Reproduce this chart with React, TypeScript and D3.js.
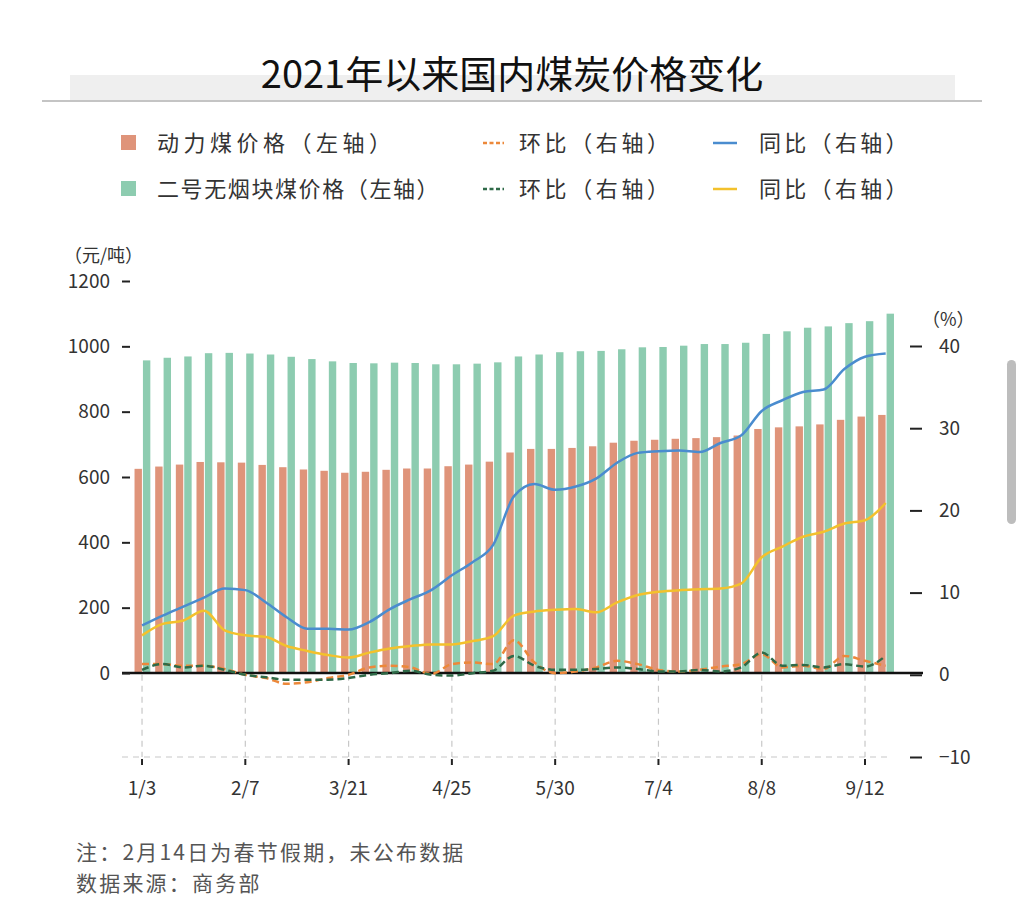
import { useEffect, useRef } from 'react';
import * as d3 from 'd3';

// weekly dates (2/14 missing – Spring Festival)
const dates = [
  '1/3', '1/10', '1/17', '1/24', '1/31', '2/7', '2/21', '2/28', '3/7', '3/14',
  '3/21', '3/28', '4/4', '4/11', '4/18', '4/25', '5/2', '5/9', '5/16', '5/23',
  '5/30', '6/6', '6/13', '6/20', '6/27', '7/4', '7/11', '7/18', '7/25', '8/1',
  '8/8', '8/15', '8/22', '8/29', '9/5', '9/12', '9/19',
];
const tickDates = ['1/3', '2/7', '3/21', '4/25', '5/30', '7/4', '8/8', '9/12'];
const leftTicks = [0, 200, 400, 600, 800, 1000, 1200];
const rightTicks = [-10, 0, 10, 20, 30, 40];

// 动力煤价格 (元/吨)
const powerPrice = [
  625, 632, 638, 646, 645, 644, 637, 630, 623, 619,
  613, 616, 622, 626, 626, 633, 638, 647, 675, 686,
  686, 689, 694, 705, 711, 714, 717, 719, 722, 727,
  747, 752, 755, 761, 775, 785, 790,
];
// 二号无烟块煤价格 (元/吨)
const anthracitePrice = [
  957, 965, 969, 979, 980, 978, 975, 968, 961, 954,
  949, 948, 950, 949, 945, 945, 947, 951, 969, 975,
  982, 985, 986, 991, 997, 998, 1002, 1007, 1007, 1011,
  1038, 1046, 1057, 1061, 1071, 1077, 1100,
];
// 动力煤 环比 / 同比 (%)
const powerMoM = [
  1.3, 1.3, 1.1, 1.1, 0.7, 0.0, -0.4, -1.1, -0.9, -0.4,
  0.0, 0.9, 1.1, 0.9, 0.1, 1.3, 1.5, 1.3, 4.2, 1.5,
  0.2, 0.4, 0.9, 1.7, 1.3, 0.6, 0.4, 0.6, 1.0, 1.3,
  2.5, 0.9, 1.1, 0.7, 2.3, 1.7, 1.1,
];
const powerYoY = [
  6.0, 7.2, 8.3, 9.4, 10.5, 10.3, 8.8, 7.0, 5.6, 5.6,
  5.5, 6.4, 8.0, 9.2, 10.3, 12.1, 13.7, 15.8, 21.7, 23.2,
  22.5, 22.9, 23.9, 25.8, 27.0, 27.2, 27.3, 27.1, 28.2, 29.1,
  32.1, 33.4, 34.4, 34.7, 37.2, 38.7, 39.1,
];
// 二号无烟块煤 环比 / 同比 (%)
const anthraciteMoM = [
  0.6, 1.3, 0.9, 1.1, 0.6, 0.0, -0.3, -0.6, -0.6, -0.6,
  -0.4, 0.0, 0.2, 0.5, 0.0, -0.1, 0.2, 0.5, 2.3, 1.1,
  0.6, 0.6, 0.7, 0.9, 0.7, 0.4, 0.4, 0.6, 0.4, 0.9,
  2.7, 1.1, 1.2, 0.9, 1.3, 1.0, 2.3,
];
const anthraciteYoY = [
  4.8, 6.2, 6.6, 7.8, 5.4, 4.8, 4.6, 3.5, 2.9, 2.4,
  2.1, 2.7, 3.2, 3.5, 3.7, 3.7, 4.1, 4.7, 7.2, 7.7,
  7.9, 8.0, 7.6, 8.8, 9.7, 10.1, 10.3, 10.4, 10.5, 11.1,
  14.3, 15.6, 16.8, 17.4, 18.4, 18.8, 20.9,
];

const FONT = '"Noto Sans CJK SC", "Noto Sans", sans-serif';
const ORANGE_BAR = '#df947a';
const GREEN_BAR = '#8dccb0';
const BLUE = '#4a8ccf';
const YELLOW = '#f3c12c';
const ORANGE_DASH = '#ec883a';
const GREEN_DASH = '#2f6a48';

export default function App() {
  const svgRef = useRef<SVGSVGElement>(null);

  useEffect(() => {
    if (!svgRef.current) return;
    const svg = d3.select(svgRef.current);
    svg.selectAll('*').remove();

    const x = d3.scaleBand().domain(dates).range([131.7, 896]).padding(0);
    const sub = d3.scaleBand().domain(['power', 'anthracite']).range([-7.5, 8.3]).paddingInner(0.12);
    const yL = d3.scaleLinear().domain([0, 1200]).range([673, 281]);
    const yR = d3.scaleLinear().domain([-10, 40]).range([757, 346]);
    const cx = (d: string) => (x(d) || 0) + x.bandwidth() / 2;

    svg.append('rect').attr('width', 1024).attr('height', 904).attr('fill', '#ffffff');

    // Title
    svg.append('rect')
      .attr('x', 70).attr('y', 75).attr('width', 885).attr('height', 25)
      .attr('fill', '#efefef');
    svg.append('line')
      .attr('x1', 42).attr('x2', 982).attr('y1', 101).attr('y2', 101)
      .attr('stroke', '#c4c4c4').attr('stroke-width', 2);
    svg.append('text')
      .attr('x', 512).attr('y', 88)
      .attr('text-anchor', 'middle')
      .style('font-size', '38px').style('font-weight', 400).style('fill', '#111')
      .text('2021年以来国内煤炭价格变化');

    // Legend
    const legendRows = [
      { y: 143, bar: ORANGE_BAR, barLabel: '动力煤价格（左轴）', spacing: '4.5px', dash: ORANGE_DASH, line: BLUE },
      { y: 189, bar: GREEN_BAR, barLabel: '二号无烟块煤价格（左轴）', spacing: '1.6px', dash: GREEN_DASH, line: YELLOW },
    ];
    legendRows.forEach(r => {
      const g = svg.append('g');
      g.append('rect').attr('x', 121).attr('y', r.y - 8).attr('width', 15).attr('height', 15).attr('fill', r.bar);
      g.append('text').attr('x', 157).attr('y', r.y).attr('dy', '0.36em')
        .style('font-size', '22px').style('letter-spacing', r.spacing).style('fill', '#333')
        .text(r.barLabel);
      g.append('line').attr('x1', 483).attr('x2', 504).attr('y1', r.y).attr('y2', r.y)
        .attr('stroke', r.dash).attr('stroke-width', 2.5).attr('stroke-dasharray', '4,2.5');
      g.append('text').attr('x', 519).attr('y', r.y).attr('dy', '0.36em')
        .style('font-size', '22px').style('letter-spacing', '3.6px').style('fill', '#333')
        .text('环比（右轴）');
      g.append('line').attr('x1', 713).attr('x2', 737).attr('y1', r.y).attr('y2', r.y)
        .attr('stroke', r.line).attr('stroke-width', 2.5);
      g.append('text').attr('x', 759).attr('y', r.y).attr('dy', '0.36em')
        .style('font-size', '22px').style('letter-spacing', '3.3px').style('fill', '#333')
        .text('同比（右轴）');
    });

    // Axis unit labels
    svg.append('text').attr('x', 64).attr('y', 262)
      .style('font-size', '18px').style('fill', '#333').text('（元/吨）');
    svg.append('text').attr('x', 922).attr('y', 326)
      .style('font-size', '18px').style('fill', '#333').text('（%）');

    // Vertical dashed grid below zero + bottom dashed line
    svg.append('g')
      .selectAll('line')
      .data(tickDates)
      .join('line')
      .attr('x1', d => cx(d)).attr('x2', d => cx(d))
      .attr('y1', yR(0)).attr('y2', yR(-10))
      .attr('stroke', '#c8c8c8').attr('stroke-width', 1.2).attr('stroke-dasharray', '6,5');
    svg.append('line')
      .attr('x1', 122).attr('x2', 892).attr('y1', yR(-10)).attr('y2', yR(-10))
      .attr('stroke', '#c8c8c8').attr('stroke-width', 1.2).attr('stroke-dasharray', '6,5');

    // Bars
    const bars = svg.append('g');
    bars.selectAll('rect.power')
      .data(dates)
      .join('rect')
      .attr('class', 'power')
      .attr('x', (d) => cx(d) + (sub('power') || 0))
      .attr('y', (_, i) => yL(powerPrice[i]))
      .attr('width', sub.bandwidth())
      .attr('height', (_, i) => yL(0) - yL(powerPrice[i]))
      .attr('fill', ORANGE_BAR);
    bars.selectAll('rect.anthracite')
      .data(dates)
      .join('rect')
      .attr('class', 'anthracite')
      .attr('x', (d) => cx(d) + (sub('anthracite') || 0))
      .attr('y', (_, i) => yL(anthracitePrice[i]))
      .attr('width', sub.bandwidth())
      .attr('height', (_, i) => yL(0) - yL(anthracitePrice[i]))
      .attr('fill', GREEN_BAR);

    // Zero line
    svg.append('line')
      .attr('x1', 122).attr('x2', 923).attr('y1', yL(0)).attr('y2', yL(0))
      .attr('stroke', '#111').attr('stroke-width', 2.5);

    // Lines (right axis)
    const line = d3.line<number>()
      .x((_, i) => cx(dates[i]))
      .y(v => yR(v))
      .curve(d3.curveMonotoneX);

    const series = [
      { data: powerMoM, color: ORANGE_DASH, dash: '7,4' },
      { data: anthraciteMoM, color: GREEN_DASH, dash: '7,4' },
      { data: anthraciteYoY, color: YELLOW, dash: null },
      { data: powerYoY, color: BLUE, dash: null },
    ];
    series.forEach(s => {
      svg.append('path')
        .datum(s.data)
        .attr('fill', 'none')
        .attr('stroke', s.color)
        .attr('stroke-width', 2.5)
        .attr('stroke-dasharray', s.dash)
        .attr('d', line);
    });

    // Left axis
    const left = svg.append('g')
      .attr('transform', 'translate(130,0)')
      .call(d3.axisLeft(yL).tickValues(leftTicks).tickFormat(d3.format('d')).tickSize(8).tickPadding(12));
    left.select('.domain').remove();
    left.selectAll('line').attr('stroke', '#222').attr('stroke-width', 2);
    left.selectAll('text').style('font-size', '19px').style('fill', '#333').style('font-family', FONT);

    // Right axis
    const right = svg.append('g')
      .attr('transform', 'translate(910,0)')
      .call(d3.axisRight(yR).tickValues(rightTicks).tickSize(12).tickPadding(17));
    right.select('.domain').remove();
    right.selectAll('line').attr('stroke', '#222').attr('stroke-width', 2);
    right.selectAll('text').style('font-size', '19px').style('fill', '#333').style('font-family', FONT);

    // Bottom axis
    const bottom = svg.append('g')
      .attr('transform', `translate(0,${yR(-10) + 2})`)
      .call(d3.axisBottom(x).tickValues(tickDates).tickSize(6).tickPadding(17));
    bottom.select('.domain').remove();
    bottom.selectAll('line').attr('stroke', '#222').attr('stroke-width', 2);
    bottom.selectAll('text').style('font-size', '19px').style('fill', '#333').style('font-family', FONT);

    // Notes
    svg.append('text').attr('x', 76).attr('y', 860)
      .style('font-size', '21px').style('letter-spacing', '2.2px').style('fill', '#555')
      .text('注：2月14日为春节假期，未公布数据');
    svg.append('text').attr('x', 76).attr('y', 891)
      .style('font-size', '21px').style('letter-spacing', '2.2px').style('fill', '#555')
      .text('数据来源：商务部');

    // Scrollbar of the screenshot
    svg.append('rect')
      .attr('x', 1007).attr('y', 360).attr('width', 9).attr('height', 164).attr('rx', 4.5)
      .attr('fill', '#bdbdbd');
  }, []);

  return (
    <svg
      ref={svgRef}
      width={1024}
      height={904}
      style={{ position: 'absolute', left: 0, top: 0, fontFamily: FONT }}
    />
  );
}
